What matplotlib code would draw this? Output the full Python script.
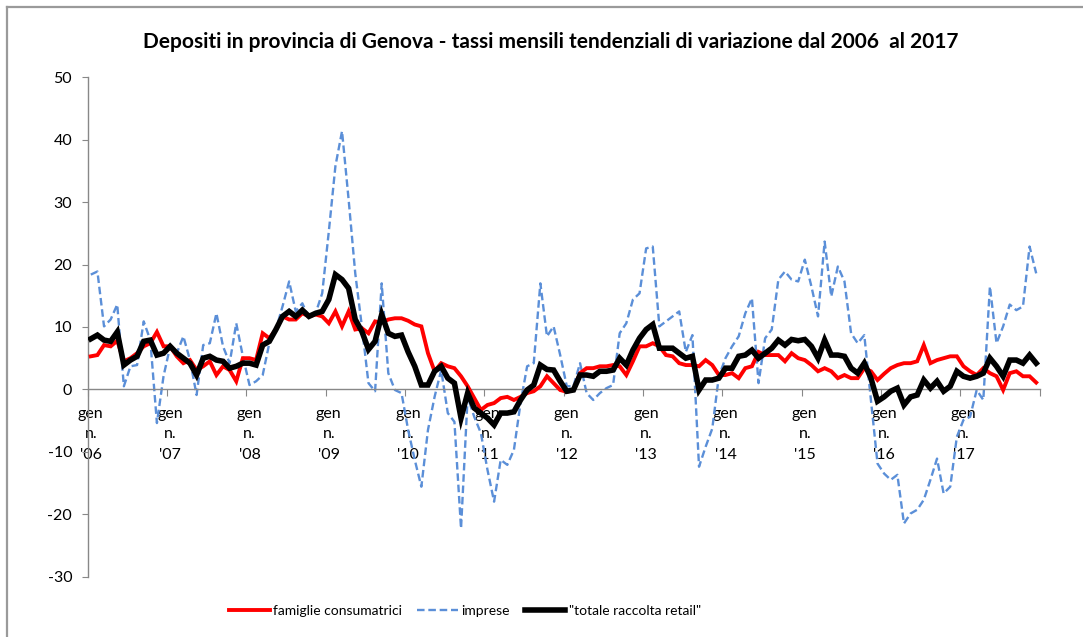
import matplotlib
matplotlib.use("Agg")
import matplotlib.pyplot as plt
from matplotlib.lines import Line2D
import numpy as np

# ---- data ----
years = ["'06", "'07", "'08", "'09", "'10", "'11", "'12", "'13", "'14", "'15", "'16", "'17"]

famiglie = [
    5.3, 5.5, 7.1, 6.9, 7.8, 4.5, 5.0, 5.8, 6.9, 7.4, 9.2, 6.9,
    6.9, 5.3, 4.2, 4.7, 3.1, 3.7, 4.5, 2.3, 3.7, 3.1, 1.3, 5.0,
    5.0, 4.7, 9.0, 8.2, 9.6, 11.7, 11.2, 11.2, 12.2, 11.7, 12.0, 11.7,
    10.6, 12.5, 10.1, 12.5, 9.6, 9.8, 9.0, 10.9, 10.7, 11.2, 11.4, 11.4,
    11.0, 10.4, 10.1, 5.8, 2.9, 4.2, 3.7, 3.4, 2.1, 0.5, -1.4, -3.3,
    -2.5, -2.2, -1.4, -1.2, -1.7, -1.2, -0.6, -0.3, 0.5, 2.1, 1.0, -0.1,
    -0.4, -0.1, 2.6, 3.4, 3.4, 3.7, 3.7, 3.9, 3.7, 2.3, 4.5, 6.9,
    6.9, 7.4, 6.9, 5.5, 5.3, 4.2, 3.9, 3.9, 3.7, 4.7, 3.9, 2.3,
    2.3, 2.6, 1.8, 3.4, 3.7, 6.0, 5.5, 5.5, 5.5, 4.5, 5.8, 5.0,
    4.7, 3.9, 2.9, 3.4, 2.9, 1.8, 2.3, 1.8, 1.8, 3.4, 2.9, 1.5,
    2.5, 3.4, 3.9, 4.2, 4.2, 4.5, 7.1, 4.2, 4.7, 5.0, 5.3, 5.3,
    3.7, 2.9, 2.3, 3.4, 2.6, 2.1, -0.1, 2.6, 2.9, 2.1, 2.1, 1.1,
]

imprese = [
    18.4, 18.9, 10.1, 11.2, 13.6, 0.5, 3.7, 3.9, 10.9, 7.9, -5.4, 2.1,
    6.9, 5.8, 8.5, 4.7, -0.9, 7.1, 7.4, 12.2, 6.9, 4.2, 10.6, 5.3,
    0.7, 1.3, 2.3, 7.4, 9.6, 13.3, 17.3, 12.5, 13.8, 11.4, 12.2, 15.4,
    25.3, 35.8, 41.4, 30.4, 18.6, 10.1, 1.0, -0.3, 17.0, 2.6, -0.1, -0.6,
    -6.5, -11.3, -15.6, -6.5, -1.2, 3.1, -3.8, -5.2, -22.3, -1.2, -4.4, -7.0,
    -12.9, -18.0, -11.3, -12.1, -9.7, -2.2, 3.7, 4.2, 17.0, 8.5, 10.1, 5.5,
    0.5, 0.5, 4.2, -0.6, -1.7, -0.6, 0.2, 0.7, 9.0, 10.6, 14.4, 15.4,
    22.6, 22.9, 10.1, 10.9, 11.7, 12.5, 6.0, 8.7, -12.4, -9.2, -6.3, 2.1,
    5.0, 6.9, 8.5, 12.2, 14.6, 1.0, 8.2, 9.6, 17.6, 18.9, 17.6, 17.3,
    20.8, 16.5, 11.7, 23.7, 14.9, 19.7, 17.3, 9.0, 7.4, 8.7, -1.7, -11.9,
    -13.5, -14.5, -13.7, -21.5, -19.9, -19.3, -17.7, -14.5, -11.1, -16.7, -15.6, -7.6,
    -4.9, -4.4, -0.1, -1.7, 16.5, 7.4, 10.1, 13.6, 12.7, 13.3, 22.9, 18.6,
]

totale = [
    8.1, 8.7, 7.9, 7.7, 9.2, 3.9, 4.7, 5.3, 7.7, 7.9, 5.5, 5.8,
    6.9, 5.8, 5.0, 4.2, 2.3, 5.0, 5.3, 4.7, 4.5, 3.4, 3.7, 4.2,
    4.2, 3.9, 7.1, 7.7, 9.6, 11.7, 12.5, 11.7, 12.7, 11.7, 12.2, 12.5,
    14.4, 18.4, 17.6, 16.2, 11.2, 9.3, 6.4, 7.7, 12.0, 9.0, 8.5, 8.7,
    6.0, 3.7, 0.7, 0.7, 2.9, 3.7, 1.8, 1.0, -4.6, -0.6, -3.0, -3.8,
    -4.6, -5.7, -3.8, -3.8, -3.6, -1.7, -0.1, 0.7, 3.9, 3.2, 3.1, 1.3,
    -0.3, -0.1, 2.3, 2.3, 2.1, 2.9, 2.9, 3.1, 5.0, 3.9, 6.3, 8.2,
    9.6, 10.4, 6.6, 6.6, 6.6, 5.8, 5.0, 5.3, -0.1, 1.5, 1.5, 1.8,
    3.4, 3.4, 5.3, 5.5, 6.3, 5.0, 5.8, 6.6, 7.9, 7.1, 8.0, 7.8,
    8.0, 6.9, 5.0, 7.9, 5.5, 5.5, 5.3, 3.4, 2.6, 4.2, 1.8, -1.9,
    -1.2, -0.3, 0.2, -2.5, -1.2, -0.9, 1.5, 0.2, 1.3, -0.3, 0.5, 2.9,
    2.1, 1.8, 2.1, 2.6, 5.0, 3.7, 2.1, 4.7, 4.7, 4.2, 5.5, 4.2,
]

title = "Depositi in provincia di Genova - tassi mensili tendenziali di variazione dal 2006  al 2017"
labels = ["famiglie consumatrici", "imprese", "\"totale raccolta retail\""]

# ---- fonts ----
plt.rcParams["font.family"] = ["Lato", "DejaVu Sans"]
plt.rcParams["axes.unicode_minus"] = False

W, H = 1083, 637
fig = plt.figure(figsize=(W / 100, H / 100), dpi=100)
fig.patch.set_facecolor("white")

# chart-area border (top and left visible)
fig.add_artist(Line2D([7 / W, 1], [1 - 7 / H, 1 - 7 / H], transform=fig.transFigure,
                      color="#9a9a9a", lw=1.6))
fig.add_artist(Line2D([7 / W, 7 / W], [0, 1 - 7 / H], transform=fig.transFigure,
                      color="#9a9a9a", lw=1.6))

left, right, top, bottom = 87.5, 1039.5, 77.5, 576.5
ax = fig.add_axes([left / W, 1 - bottom / H, (right - left) / W, (bottom - top) / H])

x = np.arange(len(famiglie))
ax.plot(x, famiglie, color="#ff0000", lw=2.8, solid_joinstyle="miter", zorder=3)
ax.plot(x, imprese, color="#5b8fd8", lw=1.7, dashes=(3.2, 1.6), zorder=2)
ax.plot(x, totale, color="black", lw=4.0, solid_joinstyle="miter", zorder=4)

ax.set_xlim(-0.5, len(famiglie) - 0.5)
ax.set_ylim(-30, 50)
ax.set_yticks(np.arange(-30, 51, 10))
ax.tick_params(axis="y", direction="out", length=4, width=0.8, color="#888888",
               labelsize=11.5, pad=7)

for s in ["top", "right"]:
    ax.spines[s].set_visible(False)
ax.spines["left"].set_color("#888888")
ax.spines["left"].set_linewidth(1.0)
ax.spines["bottom"].set_position(("data", 0))
ax.spines["bottom"].set_color("#888888")
ax.spines["bottom"].set_linewidth(1.0)

# category labels at first month of each year, tick marks at year boundaries
ax.set_xticks(np.arange(0, len(famiglie), 12))
ax.set_xticklabels(["gen\nn.\n" + y for y in years], linespacing=1.55)
ax.tick_params(axis="x", which="major", length=0, labelsize=11.5, pad=13)
ax.set_xticks(np.arange(-0.5, len(famiglie), 12), minor=True)
ax.tick_params(axis="x", which="minor", direction="out", length=5, width=0.8, color="#888888")
for lab in ax.get_xticklabels():
    lab.set_horizontalalignment("center")

fig.text(551 / W, 1 - 42 / H, title, ha="center", va="center", fontsize=15, fontweight="bold")

handles = [
    Line2D([], [], color="#ff0000", lw=2.8),
    Line2D([], [], color="#5b8fd8", lw=1.7, dashes=(3.2, 1.6)),
    Line2D([], [], color="black", lw=4.0),
]
fig.legend(handles, labels, loc="center", bbox_to_anchor=(465 / W, 1 - 611 / H), ncol=3,
           frameon=False, fontsize=10, handlelength=2.9, handletextpad=0.25, columnspacing=1.1)

fig.savefig("out.png", dpi=100, facecolor="white")
